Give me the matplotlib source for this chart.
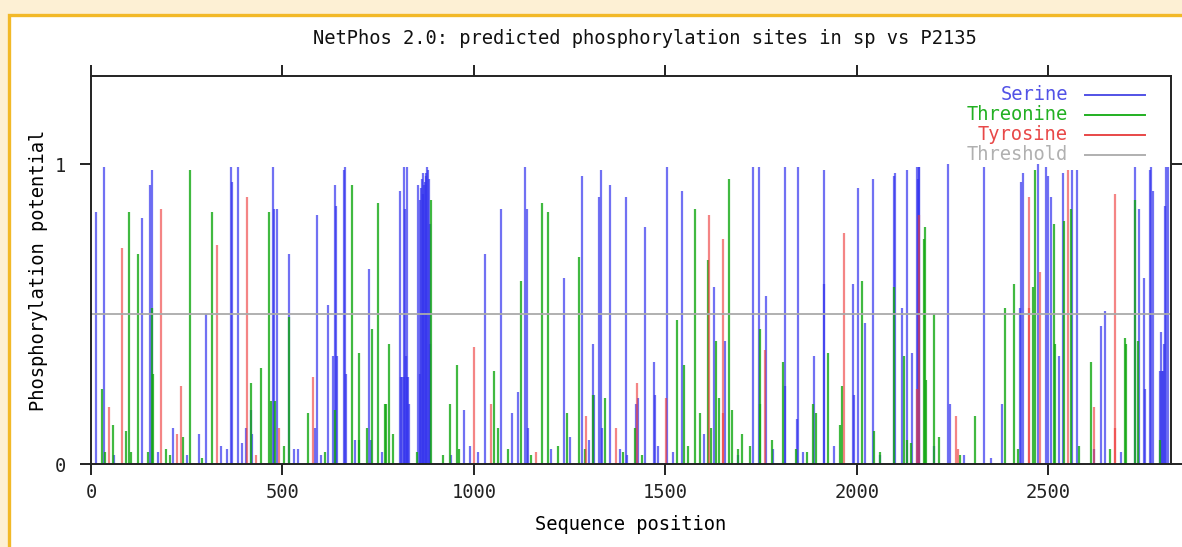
import numpy as np
import matplotlib
matplotlib.use('Agg')
import matplotlib.pyplot as plt
from matplotlib.patches import Rectangle

# predicted sites: (position, score)
serine_pos = [13, 33, 60, 134, 153, 159, 175, 215, 250, 283, 301, 340, 355, 365, 367, 384, 395,
              404, 419, 420, 475, 478, 485, 518, 530, 540, 584, 590, 600, 620, 633, 637, 640,
              643, 660, 662, 665, 690, 725, 730, 760,
              806, 810, 813, 816, 818, 820, 822, 824, 826, 828, 830,
              855, 858, 860, 862, 864, 866, 868, 870, 872, 874, 876, 878, 880, 882, 884, 886,
              940, 975, 990, 1010, 1028, 1071, 1100, 1115, 1133, 1139, 1141, 1200, 1234, 1250,
              1283, 1300, 1311, 1313, 1327, 1331, 1335, 1355, 1380, 1398, 1400, 1424, 1427,
              1447, 1470, 1472, 1480, 1505, 1520, 1542, 1600, 1627, 1655, 1690, 1729, 1743,
              1763, 1780, 1811, 1813, 1843, 1845, 1860, 1889, 1913, 1915, 1940, 1989, 1991,
              2004, 2020, 2042, 2060, 2096, 2099, 2117, 2130, 2145, 2158, 2160, 2162, 2163,
              2200, 2238, 2243, 2280, 2331, 2350, 2380, 2425, 2428, 2433, 2473, 2494, 2500,
              2506, 2528, 2537, 2562, 2575, 2620, 2638, 2648, 2690, 2727, 2737, 2750, 2752,
              2765, 2768, 2774, 2790, 2793, 2796, 2799, 2802, 2804, 2808, 2811]
serine_val = [0.84, 0.99, 0.03, 0.82, 0.93, 0.98, 0.04, 0.12, 0.03, 0.10, 0.50, 0.06, 0.05, 0.99, 0.94, 0.99, 0.07,
              0.12, 0.18, 0.10, 0.99, 0.85, 0.85, 0.70, 0.05, 0.05, 0.12, 0.83, 0.03, 0.53, 0.36, 0.93, 0.86,
              0.36, 0.98, 0.99, 0.30, 0.08, 0.65, 0.08, 0.04,
              0.91, 0.29, 0.29, 0.99, 0.29, 0.85, 0.36, 0.99, 0.29, 0.29, 0.20,
              0.93, 0.30, 0.88, 0.92, 0.95, 0.90, 0.97, 0.93, 0.94, 0.96, 0.97, 0.99, 0.98, 0.95, 0.80, 0.40,
              0.03, 0.18, 0.06, 0.04, 0.70, 0.85, 0.17, 0.24, 0.99, 0.85, 0.12, 0.05, 0.62, 0.09,
              0.96, 0.08, 0.40, 0.23, 0.89, 0.98, 0.12, 0.93, 0.05, 0.89, 0.03, 0.20, 0.22,
              0.79, 0.34, 0.23, 0.06, 0.99, 0.04, 0.91, 0.10, 0.59, 0.41, 0.03, 0.99, 0.99,
              0.56, 0.05, 0.99, 0.26, 0.15, 0.99, 0.04, 0.36, 0.98, 0.60, 0.06, 0.60, 0.23,
              0.92, 0.47, 0.95, 0.03, 0.96, 0.97, 0.52, 0.98, 0.37, 0.99, 0.95, 0.99, 0.99,
              0.06, 1.00, 0.20, 0.03, 0.99, 0.02, 0.20, 0.52, 0.94, 0.97, 1.00, 0.99, 0.96,
              0.89, 0.36, 0.97, 0.98, 0.98, 0.05, 0.46, 0.51, 0.04, 0.99, 0.85, 0.62, 0.25,
              0.98, 0.99, 0.91, 0.31, 0.44, 0.31, 0.31, 0.40, 0.86, 0.99, 0.99]

threonine_pos = [28, 36, 57, 91, 100, 104, 124, 150, 160, 162, 197, 205, 239, 259, 290, 317, 417,
                 445, 465, 470, 480, 505, 518, 566, 610, 637, 682, 700, 701, 720, 734, 749, 767,
                 769, 779, 788, 850, 888, 918, 938, 956, 960, 1052, 1062, 1090, 1123, 1150, 1177,
                 1192, 1220, 1244, 1274, 1290, 1311, 1342, 1390, 1421, 1440, 1531, 1549, 1560,
                 1577, 1591, 1612, 1620, 1631, 1640, 1667, 1673, 1690, 1701, 1720, 1746, 1748,
                 1778, 1807, 1840, 1870, 1885, 1893, 1924, 1955, 1960, 2012, 2045, 2060, 2097,
                 2123, 2130, 2140, 2175, 2177, 2180, 2200, 2215, 2270, 2309, 2387, 2411, 2420,
                 2459, 2466, 2514, 2516, 2540, 2558, 2580, 2610, 2660, 2700, 2703, 2726, 2735, 2790]
threonine_val = [0.25, 0.04, 0.13, 0.11, 0.84, 0.04, 0.70, 0.04, 0.52, 0.30, 0.05, 0.03, 0.09, 0.98, 0.02, 0.84, 0.27,
                 0.32, 0.84, 0.21, 0.21, 0.06, 0.49, 0.17, 0.04, 0.18, 0.93, 0.08, 0.37, 0.12, 0.45, 0.87, 0.20,
                 0.20, 0.40, 0.10, 0.04, 0.88, 0.03, 0.20, 0.33, 0.05, 0.31, 0.12, 0.05, 0.61, 0.03, 0.87,
                 0.84, 0.06, 0.17, 0.69, 0.05, 0.23, 0.22, 0.04, 0.12, 0.03, 0.48, 0.33, 0.06,
                 0.85, 0.17, 0.68, 0.12, 0.41, 0.22, 0.95, 0.18, 0.05, 0.10, 0.06, 0.45, 0.20,
                 0.08, 0.34, 0.05, 0.04, 0.20, 0.17, 0.37, 0.13, 0.26, 0.61, 0.11, 0.04, 0.59,
                 0.36, 0.08, 0.07, 0.75, 0.79, 0.28, 0.50, 0.09, 0.03, 0.16, 0.52, 0.60, 0.05,
                 0.59, 0.98, 0.80, 0.40, 0.81, 0.85, 0.06, 0.34, 0.05, 0.42, 0.40, 0.88, 0.41, 0.08]

tyrosine_pos = [47, 80, 182, 225, 235, 330, 408, 430, 490, 580, 999, 1044, 1162, 1292, 1371,
                1425, 1501, 1614, 1649, 1651, 1761, 1965, 2157, 2161, 2258, 2265, 2448, 2450,
                2478, 2551, 2618, 2673, 2675]
tyrosine_val = [0.19, 0.72, 0.85, 0.10, 0.26, 0.73, 0.89, 0.03, 0.12, 0.29, 0.39, 0.20, 0.04, 0.16, 0.12,
                0.27, 0.22, 0.83, 0.75, 0.17, 0.38, 0.77, 0.25, 0.83, 0.16, 0.05, 0.52, 0.89,
                0.64, 0.98, 0.19, 0.12, 0.90]

threshold = 0.5
seq_len = 2820
x_ticks = [0, 500, 1000, 1500, 2000, 2500]
y_ticks = [0, 1]

series = [('Serine', serine_pos, serine_val, '#3535ee', 0.7),
          ('Threonine', threonine_pos, threonine_val, '#12a812', 0.8),
          ('Tyrosine', tyrosine_pos, tyrosine_val, '#ee3a3a', 0.62)]
label_cols = ['#5252e6', '#22b022', '#e84848', '#b0b0b0']

W, H = 1182, 547
mono = 'DejaVu Sans Mono'
fs = 13.5
fig = plt.figure(figsize=(W / 100, H / 100), dpi=100, facecolor='#fdf0d4')
# white panel with yellow frame, kept behind the axes
fig.patches.append(Rectangle((9.5 / W, -0.1), 1.2, 1 - 14.5 / H + 0.1, transform=fig.transFigure,
                             facecolor='white', edgecolor='#f2b928', lw=2.4, zorder=-10))

ax = fig.add_axes([91 / W, (H - 464) / H, (1171 - 91) / W, (464 - 76) / H])
ax.set_zorder(2)
ax.set_facecolor('white')

for name, pos, val, col, a in series:
    ax.vlines(pos, 0, val, colors=col, lw=1.6, alpha=a, zorder=2)
ax.axhline(threshold, color='#aaaaaa', lw=1.3, zorder=3)

ax.set_xlim(0, seq_len)
ax.set_ylim(0, 1.295)
ax.set_xticks(x_ticks)
ax.set_yticks(y_ticks)
ax.tick_params(direction='out', length=8, width=1.4, colors='#222222', labelsize=fs,
               top=True, right=True, labeltop=False, labelright=False, pad=6)
ax.tick_params(axis='y', pad=10)
for lab in ax.get_xticklabels() + ax.get_yticklabels():
    lab.set_family(mono)
for s in ax.spines.values():
    s.set_color('#222222')
    s.set_linewidth(1.4)
    s.set_zorder(4)

ax.set_xlabel('Sequence position', family=mono, fontsize=fs, labelpad=9)
ax.set_ylabel('Phosphorylation potential', family=mono, fontsize=fs, labelpad=5)
fig.text(645 / W, 1 - 38 / H, 'NetPhos 2.0: predicted phosphorylation sites in sp vs P2135',
         family=mono, fontsize=fs, ha='center', va='center', color='#111111')

# legend, right-aligned text with sample line
leg_names = ['Serine', 'Threonine', 'Tyrosine', 'Threshold']
leg_y = [95, 115, 135, 155]
for name, col, yy in zip(leg_names, label_cols, leg_y):
    yf = 1 - yy / H
    fig.text(1068 / W, yf, name, family=mono, fontsize=fs, ha='right', va='center', color=col,
             zorder=5)
    fig.add_artist(plt.Line2D([1085 / W, 1145 / W], [yf, yf], color=col, lw=1.4,
                              transform=fig.transFigure, zorder=5))

fig.savefig('out.png', dpi=100, facecolor=fig.get_facecolor())
